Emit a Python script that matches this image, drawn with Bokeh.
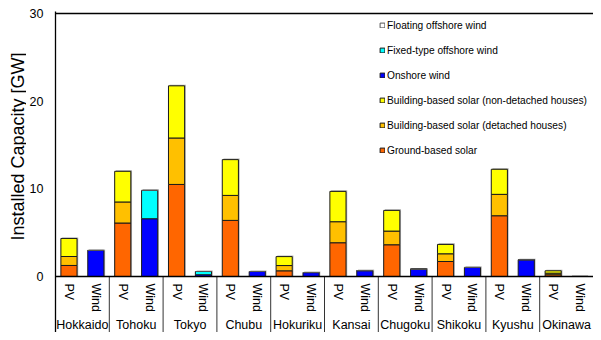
import math
from bokeh.plotting import figure
from bokeh.layouts import row
from bokeh.models import (FactorRange, Range1d, FixedTicker, Legend, LegendItem,
                          ColumnDataSource, Span)
from bokeh.core.properties import value
from bokeh.embed import file_html
from bokeh.resources import INLINE

regions = ["Hokkaido", "Tohoku", "Tokyo", "Chubu", "Hokuriku", "Kansai",
           "Chugoku", "Shikoku", "Kyushu", "Okinawa"]
kinds = ["PV", "Wind"]

ground = [1.26, 6.1, 10.5, 6.4, 0.65, 3.85, 3.62, 1.71, 6.93, 0.2]
detached = [1.02, 2.4, 5.3, 2.85, 0.6, 2.4, 1.56, 0.88, 2.44, 0.18]
nondetached = [2.06, 3.5, 5.95, 4.08, 1.02, 3.46, 2.36, 1.07, 2.86, 0.27]
onshore = [2.97, 6.59, 0.2, 0.57, 0.45, 0.67, 0.84, 1.03, 1.91, 0.0]
fixed_off = [0.0, 3.23, 0.37, 0.0, 0.0, 0.0, 0.0, 0.0, 0.0, 0.0]
floating_off = [0.0, 0.0, 0.0, 0.0, 0.0, 0.0, 0.0, 0.0, 0.0, 0.04]

y_ticks = [0, 10, 20, 30]
y_title = "Installed Capacity [GW]"

names = {
    "floating": "Floating offshore wind",
    "fixed": "Fixed-type offshore wind",
    "onshore": "Onshore wind",
    "nondet": "Building-based solar (non-detached houses)",
    "det": "Building-based solar (detached houses)",
    "ground": "Ground-based solar",
}
colors = {
    "floating": "#FFFFFF", "fixed": "#00FFFF", "onshore": "#0000FF",
    "nondet": "#FFFF00", "det": "#FFC000", "ground": "#FF6600",
}

FONT = "Liberation Sans"
W, H = 593, 332
TITLE_W = 26
PX = 263 / 30.0            # pixels per GW
Y_TOP = 30 + 2 / PX
Y_BOT = -(H - 276) / PX

# ---- narrow panel holding the y-axis title ----
tp = figure(width=TITLE_W, height=H, x_range=Range1d(0, TITLE_W),
            y_range=Range1d(Y_BOT, Y_TOP), output_backend="svg",
            toolbar_location=None, x_axis_location=None, y_axis_location=None,
            min_border_left=0, min_border_right=0, min_border_top=11,
            min_border_bottom=0)
tp.outline_line_color = None
tp.xgrid.visible = False
tp.ygrid.visible = False
tp.text(x=[17], y=[(276 - 146) / PX], text=[y_title], angle=math.pi / 2,
        text_align="center", text_baseline="middle", text_font=value(FONT),
        text_font_size="18px", text_color="black")

# ---- main chart ----
factors = [(r, k) for r in regions for k in kinds]
x_range = FactorRange(factors=factors, range_padding=0, group_padding=0,
                      factor_padding=0, subgroup_padding=0)

p = figure(width=W - TITLE_W, height=H, x_range=x_range,
           y_range=Range1d(Y_BOT, Y_TOP),
           output_backend="svg", toolbar_location=None, x_axis_location=None,
           min_border_left=55 - TITLE_W, min_border_right=0, min_border_top=11,
           min_border_bottom=0)
p.outline_line_color = None
p.xgrid.visible = False
p.ygrid.visible = False

pv_tot = [a + b + c for a, b, c in zip(ground, detached, nondetached)]
wd_tot = [a + b + c for a, b, c in zip(onshore, fixed_off, floating_off)]

# soft shadows behind bars
sh_x = [(r, "PV", 0.045) for r in regions] + [(r, "Wind", 0.045) for r in regions]
sh_top = [t + 0.12 for t in pv_tot] + [t + 0.12 if t > 0.1 else t for t in wd_tot]
p.vbar(x=sh_x, top=sh_top, bottom=0, width=0.6, fill_color="#9a9a9a",
       fill_alpha=0.8, line_color=None)

pv_src = ColumnDataSource(dict(x=[(r, "PV") for r in regions], ground=ground,
                               det=detached, nondet=nondetached))
wd_src = ColumnDataSource(dict(x=[(r, "Wind") for r in regions], onshore=onshore,
                               fixed=fixed_off, floating=floating_off))

pv_r = p.vbar_stack(["ground", "det", "nondet"], x="x", width=0.6, source=pv_src,
                    fill_color=[colors["ground"], colors["det"], colors["nondet"]],
                    line_color="#1a1a1a", line_width=1)
wd_r = p.vbar_stack(["onshore", "fixed", "floating"], x="x", width=0.6, source=wd_src,
                    fill_color=[colors["onshore"], colors["fixed"], colors["floating"]],
                    line_color=["#1a1a1a", "#1a1a1a", "#555555"], line_width=1)

rmap = {"ground": pv_r[0], "det": pv_r[1], "nondet": pv_r[2],
        "onshore": wd_r[0], "fixed": wd_r[1], "floating": wd_r[2]}
order = ["floating", "fixed", "onshore", "nondet", "det", "ground"]
legend = Legend(items=[LegendItem(label=names[k], renderers=[rmap[k]]) for k in order],
                location=(324, 172), orientation="vertical",
                glyph_width=6, glyph_height=6, label_height=20, spacing=5,
                label_standoff=2, padding=0, margin=0,
                border_line_color=None, background_fill_alpha=0,
                label_text_font=FONT, label_text_font_size="10.2px",
                label_text_color="black")
p.add_layout(legend, "center")

# baseline and top line
p.add_layout(Span(location=0, dimension="width", line_color="black", line_width=1.3))
p.add_layout(Span(location=30, dimension="width", line_color="black", line_width=1.3))

# category separators below baseline
sep_x = [2 * i for i in range(1, len(regions))]
p.segment(x0=sep_x, y0=[0] * len(sep_x), x1=sep_x, y1=[Y_BOT] * len(sep_x),
          line_color="#333333", line_width=1)

# sub-category labels
p.text(x=factors, y=[-0.8] * len(factors), text=[f[1] for f in factors],
       angle=-math.pi / 2, text_align="left", text_baseline="middle",
       text_font=value(FONT), text_font_size="12.5px", text_color="black")
# region labels
p.text(x=[2 * i + 1 for i in range(len(regions))], y=[-(324 - 276) / PX] * len(regions),
       text=regions, text_align="center", text_baseline="middle",
       text_font=value(FONT), text_font_size="12.5px", text_color="black")

ax = p.yaxis[0]
ax.ticker = FixedTicker(ticks=y_ticks)
ax.major_tick_line_color = None
ax.minor_tick_line_color = None
ax.major_label_standoff = 6
ax.major_label_text_font = FONT
ax.major_label_text_font_size = "12.5px"
ax.major_label_text_color = "black"
ax.axis_line_color = "black"
ax.axis_line_width = 1.3

layout = row(tp, p, spacing=0)
open("out.html", "w").write(file_html(layout, INLINE))
